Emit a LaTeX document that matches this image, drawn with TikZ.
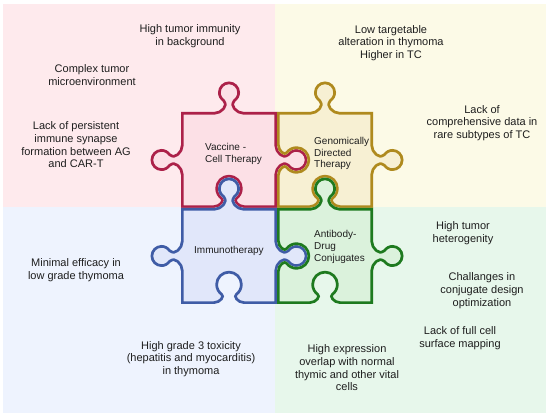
\documentclass[tikz,border=0pt]{standalone}
\usepackage{fontspec}
\setmainfont{Liberation Sans}
\definecolor{bgvac}{HTML}{FEEAED}
\definecolor{bggen}{HTML}{FCFAE7}
\definecolor{bgimm}{HTML}{EEF3FE}
\definecolor{bgadc}{HTML}{E7F7EB}
\definecolor{vacfill}{HTML}{FCE0E6}
\definecolor{genfill}{HTML}{F7F0D3}
\definecolor{immfill}{HTML}{E1E7FA}
\definecolor{adcfill}{HTML}{DBF2DC}
\definecolor{vacline}{HTML}{AC2149}
\definecolor{genline}{HTML}{AF8A1E}
\definecolor{immline}{HTML}{3F5CA6}
\definecolor{adcline}{HTML}{1E7A1F}
\definecolor{txt}{HTML}{1E1E1E}
% one side of a piece, drawn as the top side and turned by #1; #2: 1 tab, -1 slot
\newcommand{\pside}[2]{{[rotate=#1] -- (-15,48)
  .. controls (-8,48) and (-2.2,{48+7.6*#2}) .. (-6.3,{48+10.5*#2})
  .. controls (-9.2,{48+12.6*#2}) and (-11,{48+15.9*#2}) .. (-11,{48+19.5*#2})
  .. controls (-11,{48+25.6*#2}) and (-6.1,{48+30.5*#2}) .. (0,{48+30.5*#2})
  .. controls (6.1,{48+30.5*#2}) and (11,{48+25.6*#2}) .. (11,{48+19.5*#2})
  .. controls (11,{48+15.9*#2}) and (9.2,{48+12.6*#2}) .. (6.3,{48+10.5*#2})
  .. controls (2.2,{48+7.6*#2}) and (8,48) .. (15,48) -- (48,48)}}
\newcommand{\pcut}[4]{(-48,48) \pside{0}{#1} \pside{-90}{#2} \pside{-180}{#3} \pside{90}{#4} -- cycle}
% piece: centre, top, right, bottom, left, colour prefix
\newcommand{\puzzle}[6]{%
  \begin{scope}[shift={(#1)}]
    \fill[#6fill] \pcut{#2}{#3}{#4}{#5};
    \begin{scope}
      \clip \pcut{#2}{#3}{#4}{#5};
      \draw[#6line, line width=5.4pt, line join=round] \pcut{#2}{#3}{#4}{#5};
    \end{scope}
  \end{scope}}
\tikzset{
  note/.style={align=center, inner sep=0pt, text=txt, font=\fontsize{11}{12.7}\selectfont},
  plabel/.style={align=left, anchor=west, inner sep=0pt, text=txt, font=\fontsize{10}{11.7}\selectfont}
}
\begin{document}
\begin{tikzpicture}[x=1pt, y=1pt]
  \useasboundingbox (0,0) rectangle (550,-417);
  % quarters
  \fill[bgvac] (3,-4) rectangle (275,-207);
  \fill[bggen] (275,-4) rectangle (546,-207);
  \fill[bgimm] (3,-207) rectangle (275,-413);
  \fill[bgadc] (275,-207) rectangle (546,-413);
  % pieces
  \puzzle{229,-160}{1}{1}{-1}{1}{vac}
  \puzzle{325,-160}{1}{1}{-1}{-1}{gen}
  \puzzle{229,-256}{1}{1}{-1}{1}{imm}
  \puzzle{325,-256}{1}{1}{-1}{-1}{adc}
  % labels on the pieces
  \node[plabel] (vaccine) at (205,-154) {Vaccine -\\Cell Therapy};
  \node[plabel] (genomic) at (314,-153.5) {Genomically\\Directed\\Therapy};
  \node[plabel] (immuno) at (194,-251) {Immunotherapy};
  \node[plabel] (adc) at (314,-247) {Antibody-\\Drug\\Conjugates};
  % notes
  \node[note] (vac1) at (190,-36) {High tumor immunity\\in background};
  \node[note] (vac2) at (92,-75) {Complex tumor\\microenvironment};
  \node[note] (vac3) at (76,-145) {Lack of persistent\\immune synapse\\formation between AG\\and CAR-T};
  \node[note] (gen1) at (391,-43) {Low targetable\\alteration in thymoma\\Higher in TC};
  \node[note] (gen2) at (482,-123) {Lack of\\comprehensive data in\\rare subtypes of TC};
  \node[note] (imm1) at (76,-270) {Minimal efficacy in\\low grade thymoma};
  \node[note] (imm2) at (191,-359) {High grade 3 toxicity\\(hepatitis and myocarditis)\\in thymoma};
  \node[note] (adc1) at (463,-233.5) {High tumor\\heterogenity};
  \node[note] (adc2) at (482,-290.5) {Challanges in\\conjugate design\\optimization};
  \node[note] (adc3) at (460,-338.5) {Lack of full cell\\surface mapping};
  \node[note] (adc4) at (347,-368) {High expression\\overlap with normal\\thymic and other vital\\cells};
\end{tikzpicture}
\end{document}
